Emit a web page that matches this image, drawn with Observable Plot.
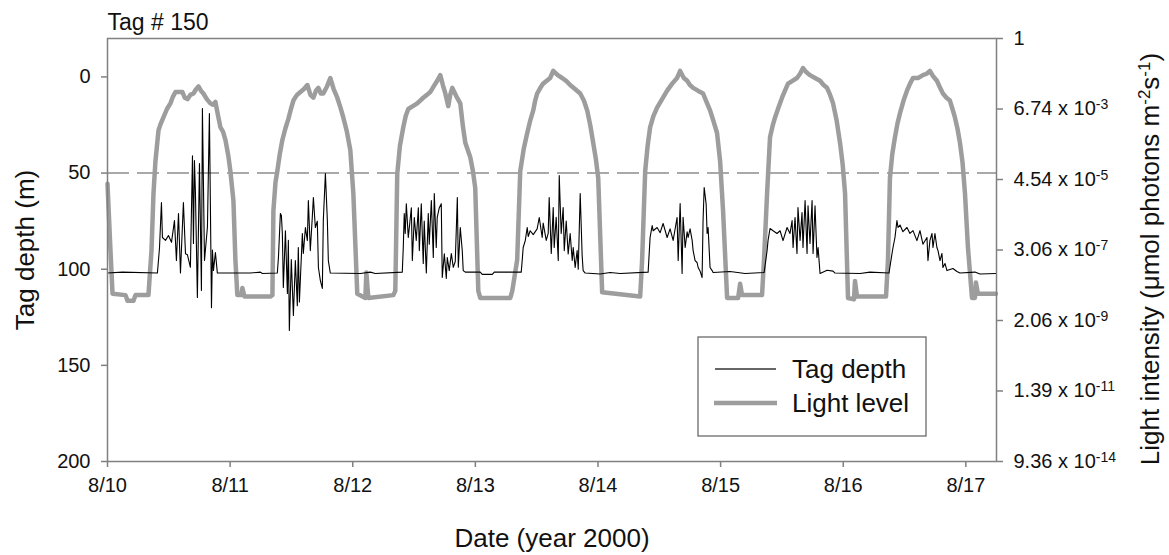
<!DOCTYPE html>
<html><head><meta charset="utf-8">
<script src="https://cdn.jsdelivr.net/npm/d3@7"></script>
<script src="https://cdn.jsdelivr.net/npm/@observablehq/plot@0.6"></script>
<style>body{margin:0;background:#fff} svg{display:block}</style>
</head><body><div id="chart"></div>
<script>
// ---- data (time as day of August 2000, decimal) ----
const depthDay = [
10.000,10.122,10.407,10.424,10.440,10.448,10.473,10.497,10.522,10.546,10.562,10.579,10.595,10.619,10.636,10.652,10.676,10.693,10.701,10.709,10.717,10.733,10.750,10.766,10.774,10.791,10.815,10.831,10.848,10.856,10.864,10.880,10.896,
11.165,11.247,11.263,11.385,11.394,11.410,11.418,11.426,11.434,11.451,11.467,11.475,11.483,11.499,11.516,11.532,11.548,11.556,11.565,11.589,11.597,11.614,11.630,11.638,11.654,11.670,11.679,11.695,11.711,11.720,11.736,11.752,11.760,11.777,11.793,11.801,11.817,
12.062,12.143,12.184,12.404,12.412,12.420,12.428,12.437,12.453,12.478,12.486,12.502,12.518,12.535,12.543,12.559,12.575,12.583,12.600,12.616,12.624,12.641,12.657,12.665,12.681,12.689,12.706,12.722,12.730,12.747,12.763,12.771,12.787,12.804,12.820,12.836,12.853,12.861,12.877,12.893,12.901,12.918,
13.040,13.056,13.138,13.154,13.374,13.382,13.390,13.407,13.423,13.431,13.447,13.472,13.504,13.521,13.545,13.553,13.578,13.594,13.602,13.619,13.635,13.643,13.659,13.676,13.684,13.700,13.716,13.725,13.741,13.757,13.773,13.790,13.798,13.814,13.830,13.839,13.855,13.871,13.879,13.896,
14.018,14.099,14.181,14.409,14.425,14.442,14.450,14.482,14.507,14.531,14.564,14.588,14.613,14.645,14.654,14.670,14.686,14.694,14.711,14.727,14.735,14.751,14.768,14.776,14.792,14.808,14.817,14.833,14.849,14.857,14.866,14.882,14.890,14.898,14.914,14.931,14.939,
15.077,15.200,15.355,15.379,15.387,15.403,15.428,15.460,15.485,15.509,15.542,15.566,15.583,15.591,15.607,15.623,15.631,15.648,15.664,15.672,15.689,15.705,15.713,15.729,15.746,15.754,15.770,15.786,15.795,15.811,15.868,15.917,15.933,
16.137,16.218,16.373,16.398,16.406,16.422,16.438,16.447,16.463,16.487,16.520,16.544,16.569,16.601,16.626,16.650,16.683,16.691,16.707,16.724,16.732,16.748,16.764,16.773,16.789,16.805,16.813,16.830,16.846,16.895,16.927,16.952,
17.074,17.115,17.245];
const depthM = [
102,101.5,102,89,65.3,83.5,85,82.5,86,74.7,95.5,71,102,65.3,92,92.5,99,41,86.6,43.5,60,114.7,45,111,16.4,95.5,78,19,120,90,100.7,91.3,102,
102,101.5,102.2,102,94,71,72,81.4,109.5,80,112.6,85,131.9,95,124.1,95.5,119,88.7,117,81.4,91.8,78.3,85.1,64.3,90.3,73.1,62.7,78.3,75,99.1,105.9,110,74.7,50.2,74.7,95.5,102,
102.2,101.5,102.2,101.5,89,71,81.4,66,83.5,68,95.5,73.1,85,68,90.3,66,97,75,102,71,87,64.3,93.9,60.6,88.7,73,68,66,104.3,92,104.8,93.9,100.7,91.8,99,96,62.7,99,78.3,90.3,100.7,101.5,
101.5,102.7,102.7,101.5,101.5,95.5,88.7,85.1,78.3,83,80,82,79,73.1,83.5,76,85,81.4,62.7,91.8,67.9,88.7,73,95.5,51.3,81.4,67.9,90.3,75,92,81.4,95.5,88.7,99.1,90.3,100,60.6,93,100.7,102,
102.5,101.7,102.2,101.5,83.5,77.3,80,78.3,81,76.2,83.5,79,85,73.1,95.5,65.8,102.2,73,88.7,80.5,83.5,79,85,90.3,95.5,96.5,99.1,101,104.3,74.7,57.5,66,81.4,78.3,99.1,100.7,101.7,
101.2,102.2,101.7,90.3,85,78.8,80,81.4,80,85.1,78.3,81.4,74.7,88.7,73.1,91.8,67.9,85,70.5,88.7,64.3,91.8,67,86.6,64.3,91.8,67,93.9,88.7,102.2,100.5,101,102,
102.2,101.5,102,91.8,88.7,83.5,74.7,78.3,77,80.5,78.3,81.4,79.9,85.1,79.9,87,83.5,95.5,85.1,81.4,88.7,81.4,88.7,90.3,95.5,91.8,99.1,97,100.7,99.6,101.2,102,
101.5,102.5,102.2];

// light level: [day, natural log of intensity]
const lightSeries = [
[10.000,-10.3],[10.024,-15.0],[10.041,-18.1],[10.147,-18.2],[10.163,-18.6],[10.212,-18.6],[10.228,-18.2],
[10.334,-18.2],[10.359,-15.0],[10.375,-11.0],[10.391,-8.7],[10.416,-6.5],[10.436,-6.0],[10.456,-5.6],[10.485,-5.0],[10.513,-4.6],[10.535,-4.1],[10.554,-3.8],[10.585,-3.8],[10.611,-3.8],[10.630,-4.2],[10.652,-4.3],[10.675,-4.0],[10.701,-3.9],[10.722,-3.6],[10.742,-3.4],[10.762,-3.7],[10.782,-3.9],[10.810,-4.3],[10.839,-4.6],[10.860,-4.7],[10.880,-4.5],[10.900,-5.4],[10.921,-6.3],[10.942,-6.6],[10.962,-7.2],[10.985,-8.3],[11.002,-9.4],[11.027,-11.5],[11.043,-15.7],[11.059,-18.2],
[11.092,-18.2],[11.100,-17.7],[11.117,-18.3],[11.328,-18.3],
[11.345,-18.2],[11.353,-12.2],[11.370,-10.2],[11.385,-9.4],[11.405,-8.2],[11.426,-7.2],[11.450,-6.4],[11.475,-5.7],[11.496,-5.0],[11.516,-4.4],[11.545,-4.0],[11.573,-3.8],[11.600,-3.6],[11.630,-3.3],[11.655,-4.0],[11.679,-4.2],[11.700,-3.7],[11.720,-3.5],[11.740,-3.9],[11.760,-3.9],[11.790,-3.4],[11.817,-2.8],[11.845,-3.6],[11.874,-4.2],[11.900,-4.9],[11.923,-5.6],[11.952,-6.6],[11.980,-7.9],[12.005,-11.0],[12.037,-18.1],
[12.103,-18.4],[12.111,-16.6],[12.127,-18.4],[12.331,-18.2],
[12.347,-17.9],[12.363,-9.6],[12.385,-7.6],[12.412,-6.3],[12.432,-5.5],[12.453,-5.0],[12.490,-4.8],[12.526,-4.6],[12.550,-4.4],[12.575,-4.2],[12.605,-4.0],[12.632,-3.8],[12.660,-3.4],[12.689,-3.0],[12.714,-2.6],[12.735,-3.3],[12.755,-3.9],[12.779,-4.8],[12.795,-4.0],[12.812,-3.5],[12.845,-4.1],[12.877,-4.6],[12.898,-6.2],[12.918,-7.4],[12.938,-7.9],[12.958,-8.4],[12.980,-9.4],[12.999,-10.6],[13.024,-17.9],
[13.040,-18.4],[13.285,-18.4],[13.301,-17.9],
[13.341,-15.7],[13.366,-9.4],[13.395,-7.8],[13.423,-6.7],[13.448,-5.8],[13.472,-5.1],[13.488,-4.4],[13.504,-3.9],[13.530,-3.5],[13.553,-3.2],[13.582,-3.0],[13.610,-2.8],[13.635,-2.3],[13.672,-2.6],[13.708,-2.8],[13.740,-3.0],[13.773,-3.3],[13.815,-3.6],[13.855,-3.9],[13.885,-4.4],[13.912,-5.1],[13.938,-6.2],[13.961,-7.4],[13.982,-8.5],[14.002,-9.9],[14.034,-18.0],
[14.344,-18.3],
[14.360,-15.7],[14.385,-9.4],[14.405,-7.6],[14.425,-6.3],[14.452,-5.5],[14.482,-4.9],[14.523,-4.3],[14.564,-3.7],[14.605,-3.2],[14.645,-2.8],[14.670,-2.3],[14.700,-2.8],[14.727,-3.0],[14.750,-3.3],[14.776,-3.5],[14.815,-3.7],[14.857,-3.9],[14.885,-4.5],[14.914,-5.1],[14.943,-5.9],[14.971,-6.7],[14.996,-8.7],[15.020,-12.2],[15.053,-18.4],
[15.143,-18.4],[15.159,-17.4],[15.175,-18.2],[15.338,-18.2],
[15.354,-15.7],[15.379,-11.0],[15.403,-7.0],[15.424,-6.2],[15.444,-5.6],[15.472,-4.9],[15.501,-4.2],[15.525,-3.7],[15.550,-3.2],[15.586,-3.0],[15.623,-2.8],[15.648,-2.5],[15.672,-2.1],[15.700,-2.4],[15.729,-2.6],[15.770,-2.8],[15.811,-3.0],[15.840,-3.3],[15.868,-3.5],[15.893,-4.0],[15.917,-4.6],[15.946,-5.8],[15.974,-7.4],[15.995,-8.9],[16.015,-11.0],[16.039,-18.4],
[16.088,-18.5],[16.096,-17.2],[16.112,-18.3],[16.349,-18.3],
[16.365,-15.7],[16.381,-9.9],[16.400,-8.2],[16.422,-7.0],[16.443,-6.0],[16.463,-5.3],[16.492,-4.4],[16.520,-3.7],[16.545,-3.2],[16.569,-2.8],[16.610,-2.8],[16.650,-2.6],[16.680,-2.5],[16.707,-2.3],[16.735,-2.7],[16.764,-3.0],[16.790,-3.5],[16.813,-3.9],[16.842,-4.2],[16.870,-4.4],[16.891,-5.0],[16.911,-5.6],[16.932,-6.4],[16.952,-7.4],[16.973,-8.8],[16.993,-11.0],[17.017,-14.8],[17.050,-18.4],
[17.074,-18.4],[17.082,-17.3],[17.098,-18.1],[17.245,-18.1]];

const dayTicks = [10, 11, 12, 13, 14, 15, 16, 17];
const dayLabels = ["8/10", "8/11", "8/12", "8/13", "8/14", "8/15", "8/16", "8/17"];
const depthTicks = [0, 50, 100, 150, 200];
const lightTickLn = [0, -5, -10, -15, -20, -25, -30];
const lightTickMantissa = ["1", "6.74 x 10", "4.54 x 10", "3.06 x 10", "2.06 x 10", "1.39 x 10", "9.36 x 10"];
const lightTickExp = ["", "-3", "-5", "-7", "-9", "-11", "-14"];
const thresholdDepth = 50;
const seriesNames = ["Tag depth", "Light level"];

// ---- chart ----
const lnToDepth = d3.scaleLinear([0, -30], [-20, 200]); // right (ln light) axis aligned to left (depth) axis
const font = "'Liberation Sans', Arial, Helvetica, sans-serif";
const axisGray = "#808080";
const lightGray = "#9d9d9d";

const depthData = depthDay.map((d, i) => ({day: d, depth: depthM[i]}));
const lightData = lightSeries.map(([d, v]) => ({day: d, y: lnToDepth(v)}));

const plot = Plot.plot({
  width: 1169, height: 555,
  marginLeft: 107, marginRight: 173, marginTop: 38, marginBottom: 94,
  style: {fontFamily: font, fontSize: "20px", color: "#111", background: "#fff"},
  x: {domain: [10, 17.25]},
  y: {domain: [200, -20]},
  marks: [
    Plot.ruleY([thresholdDepth], {stroke: "#a9a9a9", strokeWidth: 2, strokeDasharray: "22,8"}),
    Plot.line(lightData, {x: "day", y: "y", stroke: lightGray, strokeWidth: 4.5}),
    Plot.line(depthData, {x: "day", y: "depth", stroke: "#000", strokeWidth: 1.1}),
    Plot.frame({stroke: axisGray, strokeWidth: 1.5}),
    Plot.axisX({ticks: dayTicks, tickFormat: d => dayLabels[dayTicks.indexOf(d)], tickSize: 6, tickPadding: 10, stroke: axisGray, strokeWidth: 1.5, label: null, fontSize: 20}),
    Plot.axisY({anchor: "left", ticks: depthTicks, tickSize: 6, tickPadding: 11, stroke: axisGray, strokeWidth: 1.5, label: null, fontSize: 20}),
    Plot.axisY({anchor: "right", ticks: lightTickLn.map(v => lnToDepth(v)), tickFormat: () => "", tickSize: 6, stroke: axisGray, strokeWidth: 1.5, label: null}),
    Plot.text(lightTickLn, {y: d => lnToDepth(d), frameAnchor: "right", text: (d, i) => lightTickMantissa[i], textAnchor: "start", dx: 17, fontSize: 20}),
    Plot.text(["Tag # 150"], {frameAnchor: "top-left", textAnchor: "start", lineAnchor: "bottom", dy: -9, fontSize: 23}),
    Plot.text(["Date (year 2000)"], {frameAnchor: "bottom", textAnchor: "middle", lineAnchor: "middle", dy: 77, fontSize: 26}),
    Plot.text(["Tag depth (m)"], {frameAnchor: "left", textAnchor: "middle", lineAnchor: "middle", rotate: -90, dx: -82, fontSize: 26}),
    Plot.text(["Light intensity ("], {frameAnchor: "right", textAnchor: "middle", lineAnchor: "middle", rotate: -90, dx: 154, dy: 9, fontSize: 26})
  ]
});
document.getElementById("chart").append(plot);

const svg = d3.select(plot);
svg.selectAll("text").each(function() {
  const t = d3.select(this);
  const s = this.textContent;
  const k = lightTickMantissa.indexOf(s);
  if (k > 0 && lightTickExp[k]) {
    t.append("tspan").attr("dy", "-0.45em").attr("font-size", 14).text(lightTickExp[k]);
  } else if (s === "Light intensity (") {
    t.text("Light intensity (\u03bcmol photons m");
    t.append("tspan").attr("dy", -9).attr("font-size", 17).text("-2");
    t.append("tspan").attr("dy", 9).text("s");
    t.append("tspan").attr("dy", -9).attr("font-size", 17).text("-1");
    t.append("tspan").attr("dy", 9).text(")");
  }
});
// legend box
const lg = svg.append("g").attr("font-family", font).attr("font-size", 26).attr("fill", "#111").attr("text-anchor", "start");
lg.append("rect").attr("x", 698).attr("y", 337).attr("width", 228).attr("height", 99)
  .attr("fill", "#fff").attr("stroke", "#6a6a6a").attr("stroke-width", 1.3);
lg.append("line").attr("x1", 715).attr("x2", 776).attr("y1", 369).attr("y2", 369).attr("stroke", "#333").attr("stroke-width", 1.6);
lg.append("line").attr("x1", 714).attr("x2", 777).attr("y1", 403).attr("y2", 403).attr("stroke", lightGray).attr("stroke-width", 4.5);
lg.append("text").attr("x", 792).attr("y", 378).text(seriesNames[0]);
lg.append("text").attr("x", 792).attr("y", 412).text(seriesNames[1]);
</script>
</body></html>
